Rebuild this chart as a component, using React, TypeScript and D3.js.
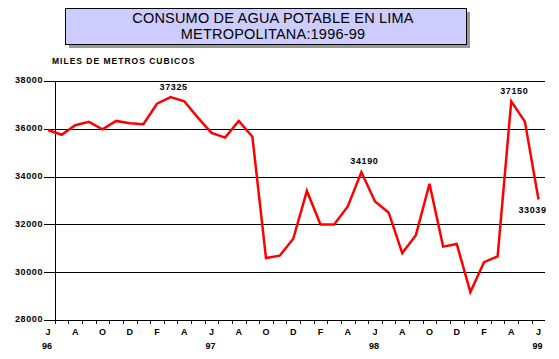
import React from "react";
import * as d3 from "d3";

const months = ["J","J","A","S","O","N","D","E","F","M","A","M","J","J","A","S","O","N","D","E","F","M","A","M","J","J","A","S","O","N","D","E","F","M","A","M","J"];
const monthLabels = ["J","","A","","O","","D","","F","","A","","J","","A","","O","","D","","F","","A","","J","","A","","O","","D","","F","","A","","J"];
const yearLabels = ["96","","","","","","","","","","","","97","","","","","","","","","","","","98","","","","","","","","","","","","99"];
const values = [35950, 35750, 36150, 36290, 35980, 36330, 36230, 36190, 37050, 37325, 37150, 36470, 35830, 35630, 36330, 35670, 30590, 30690, 31400, 33400, 32000, 32000, 32750, 34190, 32960, 32500, 30800, 31550, 33700, 31070, 31180, 29170, 30420, 30660, 37150, 36300, 33039];
const yTicks = [28000, 30000, 32000, 34000, 36000, 38000];
const annotated = [
  { i: 9, text: "37325", pos: "above" },
  { i: 23, text: "34190", pos: "above" },
  { i: 34, text: "37150", pos: "above" },
  { i: 36, text: "33039", pos: "below" },
];
const title1 = "CONSUMO DE AGUA POTABLE EN LIMA";
const title2 = "METROPOLITANA:1996-99";
const yTitle = "MILES DE METROS CUBICOS";

export default function App() {
  const idx = months.map((_, i) => i);
  const x = d3.scalePoint<number>().domain(idx).range([48, 538.5]);
  const step = x.step();
  const y = d3.scaleLinear().domain([28000, 38000]).range([320, 81]);
  const axisLeft = 55;
  const plotRight = 545;
  const line = d3.line<number>().x((_, i) => x(i)!).y((v) => y(v));
  const font = "'Liberation Sans', Arial, sans-serif";
  const tickXs = idx.slice(0, idx.length - 1).map((i) => x(i)! + step / 2);

  return (
    <svg width={559} height={359} style={{ position: "absolute", left: 0, top: 0, background: "#fff" }} fontFamily={font}>
      {/* title box */}
      <rect x={69} y={12} width={401} height={36} fill="#999999" />
      <rect x={65.5} y={8.5} width={401} height={36} fill="#ccccff" stroke="#000" strokeWidth={1} />
      <text x={273} y={19} textAnchor="middle" fontSize={14.5} letterSpacing={0.2} dominantBaseline="middle" fill="#000">{title1}</text>
      <text x={273} y={35} textAnchor="middle" fontSize={14.5} letterSpacing={0.2} dominantBaseline="middle" fill="#000">{title2}</text>

      <text x={52} y={62} fontSize={8.5} fontWeight="bold" letterSpacing={1} dominantBaseline="middle">{yTitle}</text>

      {/* gridlines */}
      {yTicks.map((t) => (
        <g key={t}>
          <line x1={44} x2={plotRight} y1={Math.round(y(t)) + 0.5} y2={Math.round(y(t)) + 0.5} stroke="#000" strokeWidth={1} />
          <text x={43} y={y(t)} textAnchor="end" dominantBaseline="middle" fontSize={9} fontWeight="bold" letterSpacing={0.6}>{t}</text>
        </g>
      ))}
      {/* y axis */}
      <line x1={axisLeft + 0.5} x2={axisLeft + 0.5} y1={81} y2={320} stroke="#000" strokeWidth={1} />
      {/* x ticks */}
      {tickXs.map((tx, k) => (
        <line key={k} x1={Math.round(tx) + 0.5} x2={Math.round(tx) + 0.5} y1={320} y2={324} stroke="#000" strokeWidth={1} />
      ))}
      {monthLabels.map((m, i) => m ? (
        <text key={"m" + i} x={x(i)!} y={333} textAnchor="middle" dominantBaseline="middle" fontSize={9} fontWeight="bold">{m}</text>
      ) : null)}
      {yearLabels.map((m, i) => m ? (
        <text key={"y" + i} x={x(i)! - 1} y={347} textAnchor="middle" dominantBaseline="middle" fontSize={9} fontWeight="bold">{m}</text>
      ) : null)}

      <path d={line(values) || ""} fill="none" stroke="#ff0000" strokeWidth={2.5} strokeLinejoin="miter" />

      {annotated.map((a) => (
        <text key={a.i} x={x(a.i)! + (a.pos === "above" ? 3 : -6)} y={y(values[a.i]) + (a.pos === "above" ? -10 : 11)} textAnchor="middle" dominantBaseline="middle" fontSize={9} fontWeight="bold" letterSpacing={0.6}>{a.text}</text>
      ))}
    </svg>
  );
}
